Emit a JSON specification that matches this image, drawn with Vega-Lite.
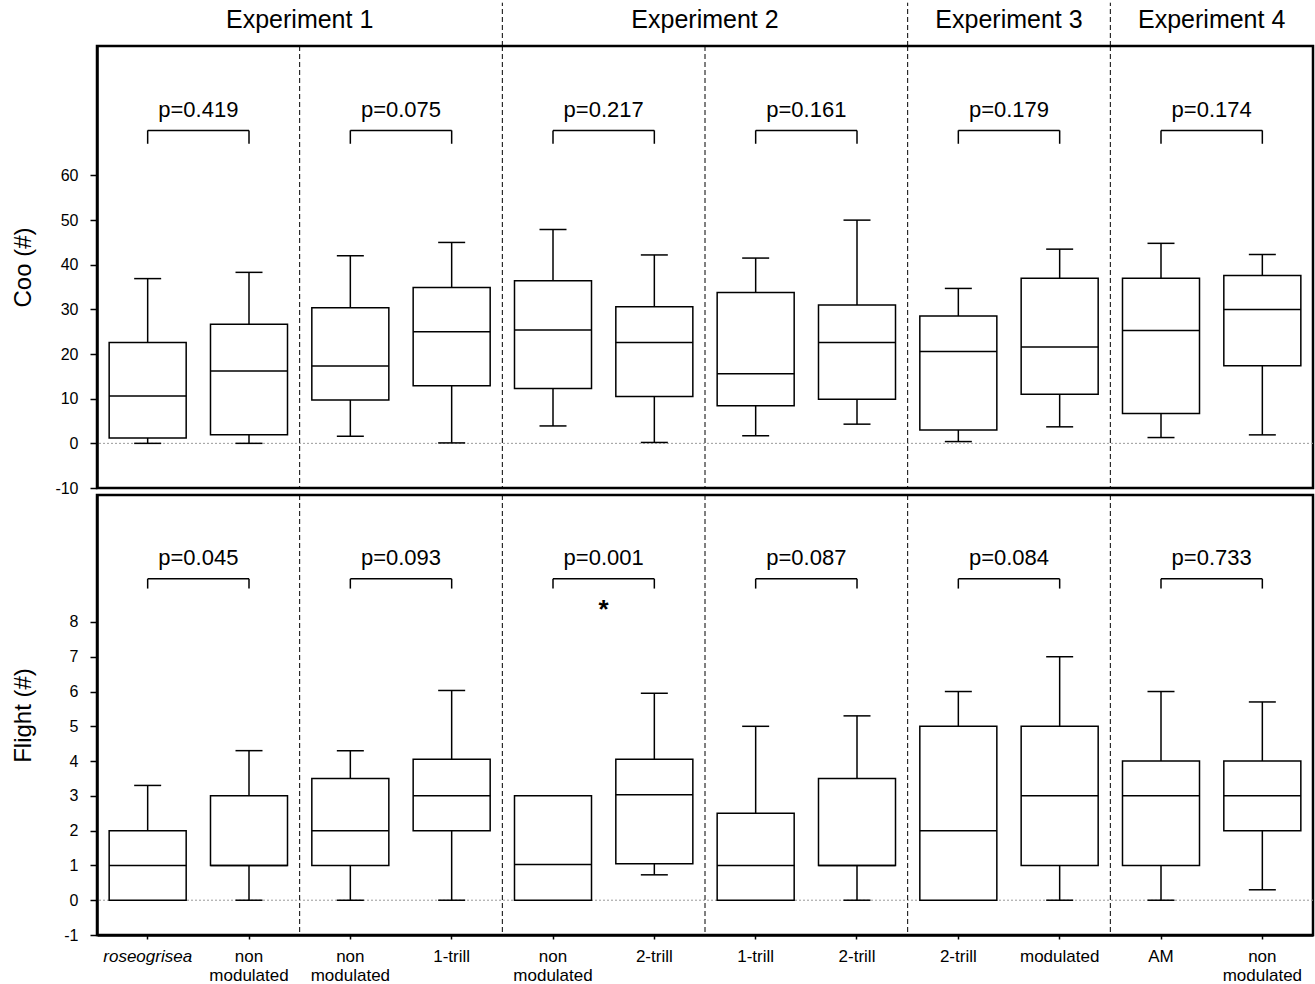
{
  "$schema": "https://vega.github.io/schema/vega-lite/v6.json",
  "padding": {"left": 10, "top": 0, "right": 0, "bottom": 0},
  "background": "white",
  "spacing": 7,
  "bounds": "flush",
  "config": {
    "font": "Liberation Sans",
    "view": {"stroke": "black", "strokeWidth": 2.5},
    "tick": {"opacity": 1},
    "axis": {"domainColor": "black", "tickColor": "black", "labelColor": "black", "titleColor": "black", "grid": false}
  },
  "datasets": {
    "coo": [
      {"cond": "01|roseogrisea", "min": 0, "q1": 1.2, "med": 10.6, "q3": 22.6, "max": 36.9},
      {"cond": "02|non|modulated", "min": 0, "q1": 1.9, "med": 16.2, "q3": 26.7, "max": 38.3},
      {"cond": "03|non|modulated", "min": 1.6, "q1": 9.7, "med": 17.3, "q3": 30.4, "max": 42.0},
      {"cond": "04|1-trill", "min": 0.1, "q1": 12.9, "med": 25.0, "q3": 34.9, "max": 45.0},
      {"cond": "05|non|modulated", "min": 3.9, "q1": 12.3, "med": 25.4, "q3": 36.4, "max": 47.9},
      {"cond": "06|2-trill", "min": 0.2, "q1": 10.5, "med": 22.6, "q3": 30.6, "max": 42.2},
      {"cond": "07|1-trill", "min": 1.7, "q1": 8.4, "med": 15.6, "q3": 33.8, "max": 41.5},
      {"cond": "08|2-trill", "min": 4.3, "q1": 9.9, "med": 22.6, "q3": 31.0, "max": 50.0},
      {"cond": "09|2-trill", "min": 0.4, "q1": 3.0, "med": 20.6, "q3": 28.5, "max": 34.7},
      {"cond": "10|modulated", "min": 3.7, "q1": 11.0, "med": 21.6, "q3": 37.0, "max": 43.5},
      {"cond": "11|AM", "min": 1.3, "q1": 6.7, "med": 25.3, "q3": 37.0, "max": 44.8},
      {"cond": "12|non|modulated", "min": 1.9, "q1": 17.4, "med": 30.0, "q3": 37.6, "max": 42.3}
    ],
    "flight": [
      {"cond": "01|roseogrisea", "min": 0, "q1": 0, "med": 1, "q3": 2, "max": 3.3},
      {"cond": "02|non|modulated", "min": 0, "q1": 1, "med": 1, "q3": 3, "max": 4.3},
      {"cond": "03|non|modulated", "min": 0, "q1": 1, "med": 2, "q3": 3.5, "max": 4.3},
      {"cond": "04|1-trill", "min": 0, "q1": 2, "med": 3, "q3": 4.05, "max": 6.03},
      {"cond": "05|non|modulated", "min": 0, "q1": 0, "med": 1.03, "q3": 3, "max": 3},
      {"cond": "06|2-trill", "min": 0.73, "q1": 1.05, "med": 3.03, "q3": 4.05, "max": 5.95},
      {"cond": "07|1-trill", "min": 0, "q1": 0, "med": 1, "q3": 2.5, "max": 5},
      {"cond": "08|2-trill", "min": 0, "q1": 1, "med": 1, "q3": 3.5, "max": 5.3},
      {"cond": "09|2-trill", "min": 0, "q1": 0, "med": 2, "q3": 5, "max": 6},
      {"cond": "10|modulated", "min": 0, "q1": 1, "med": 3, "q3": 5, "max": 7},
      {"cond": "11|AM", "min": 0, "q1": 1, "med": 3, "q3": 4, "max": 6},
      {"cond": "12|non|modulated", "min": 0.3, "q1": 2, "med": 3, "q3": 4, "max": 5.7}
    ],
    "pc": [
      {"a": "01|roseogrisea", "b": "02|non|modulated", "p": "p=0.419"},
      {"a": "03|non|modulated", "b": "04|1-trill", "p": "p=0.075"},
      {"a": "05|non|modulated", "b": "06|2-trill", "p": "p=0.217"},
      {"a": "07|1-trill", "b": "08|2-trill", "p": "p=0.161"},
      {"a": "09|2-trill", "b": "10|modulated", "p": "p=0.179"},
      {"a": "11|AM", "b": "12|non|modulated", "p": "p=0.174"}
    ],
    "pf": [
      {"a": "01|roseogrisea", "b": "02|non|modulated", "p": "p=0.045"},
      {"a": "03|non|modulated", "b": "04|1-trill", "p": "p=0.093"},
      {"a": "05|non|modulated", "b": "06|2-trill", "p": "p=0.001"},
      {"a": "07|1-trill", "b": "08|2-trill", "p": "p=0.087"},
      {"a": "09|2-trill", "b": "10|modulated", "p": "p=0.084"},
      {"a": "11|AM", "b": "12|non|modulated", "p": "p=0.733"}
    ],
    "sep": [
      {"cond": "03|non|modulated"},
      {"cond": "05|non|modulated"},
      {"cond": "07|1-trill"},
      {"cond": "09|2-trill"},
      {"cond": "11|AM"}
    ],
    "hsep": [
      {"cond": "05|non|modulated"},
      {"cond": "09|2-trill"},
      {"cond": "11|AM"}
    ],
    "hdr": [
      {"cond": "03|non|modulated", "text": "Experiment 1"},
      {"cond": "07|1-trill", "text": "Experiment 2"},
      {"cond": "10|modulated", "text": "Experiment 3"},
      {"cond": "12|non|modulated", "text": "Experiment 4"}
    ],
    "star": [
      {"cond": "06|2-trill", "text": "*"}
    ]
  },
  "vconcat": [
    {
      "width": 1216,
      "height": 442,
      "layer": [
        {
          "data": {"values": [{}]},
          "mark": {"type": "rule", "color": "#9a9a9a", "strokeWidth": 1, "strokeDash": [2, 2]},
          "encoding": {"y": {"datum": 0, "scale": {"domain": [-10, 89], "nice": false, "zero": false},
            "axis": {"values": [-10, 0, 10, 20, 30, 40, 50, 60], "labelExpr": "datum.value + ''", "tickSize": 7, "tickWidth": 1.5, "domainWidth": 2.5, "labelFontSize": 16, "labelPadding": 12, "title": "Coo (#)", "titleFontSize": 24, "titleFontWeight": "normal", "titlePadding": 19}}}
        },
        {
          "data": {"name": "sep"},
          "mark": {"type": "rule", "color": "black", "strokeWidth": 1, "strokeDash": [5, 3]},
          "encoding": {"x": {"field": "cond", "type": "nominal", "bandPosition": 0, "axis": null, "scale": {"domain": ["01|roseogrisea","02|non|modulated","03|non|modulated","04|1-trill","05|non|modulated","06|2-trill","07|1-trill","08|2-trill","09|2-trill","10|modulated","11|AM","12|non|modulated"], "paddingInner": 0, "paddingOuter": 0}}}
        },
        {
          "data": {"name": "hsep"},
          "mark": {"type": "rule", "color": "black", "strokeWidth": 1, "strokeDash": [5, 3]},
          "encoding": {
            "x": {"field": "cond", "type": "nominal", "bandPosition": 0, "axis": null},
            "y": {"datum": 89, "scale": {"domain": [-10, 89], "nice": false, "zero": false},
              "axis": {"values": [-10, 0, 10, 20, 30, 40, 50, 60], "labelExpr": "datum.value + ''", "tickSize": 7, "tickWidth": 1.5, "domainWidth": 2.5, "labelFontSize": 16, "labelPadding": 12, "title": "Coo (#)", "titleFontSize": 24, "titleFontWeight": "normal", "titlePadding": 19}},
            "y2": {"datum": 98.7}
          }
        },
        {
          "data": {"name": "hdr"},
          "mark": {"type": "text", "fontSize": 25, "baseline": "alphabetic", "align": "center", "color": "black"},
          "encoding": {
            "x": {"field": "cond", "type": "nominal", "bandPosition": 0, "axis": null},
            "y": {"datum": 93.0, "scale": {"domain": [-10, 89], "nice": false, "zero": false},
              "axis": {"values": [-10, 0, 10, 20, 30, 40, 50, 60], "labelExpr": "datum.value + ''", "tickSize": 7, "tickWidth": 1.5, "domainWidth": 2.5, "labelFontSize": 16, "labelPadding": 12, "title": "Coo (#)", "titleFontSize": 24, "titleFontWeight": "normal", "titlePadding": 19}},
            "text": {"field": "text"}
          }
        },
        {
          "data": {"name": "coo"},
          "mark": {"type": "rule", "color": "black", "strokeWidth": 1.5},
          "encoding": {
            "x": {"field": "cond", "type": "nominal", "axis": null},
            "y": {"field": "min", "type": "quantitative", "scale": {"domain": [-10, 89], "nice": false, "zero": false},
              "axis": {"values": [-10, 0, 10, 20, 30, 40, 50, 60], "labelExpr": "datum.value + ''", "tickSize": 7, "tickWidth": 1.5, "domainWidth": 2.5, "labelFontSize": 16, "labelPadding": 12, "title": "Coo (#)", "titleFontSize": 24, "titleFontWeight": "normal", "titlePadding": 19}},
            "y2": {"field": "q1"}
          }
        },
        {
          "data": {"name": "coo"},
          "mark": {"type": "rule", "color": "black", "strokeWidth": 1.5},
          "encoding": {
            "x": {"field": "cond", "type": "nominal", "axis": null},
            "y": {"field": "q3", "type": "quantitative", "scale": {"domain": [-10, 89], "nice": false, "zero": false},
              "axis": {"values": [-10, 0, 10, 20, 30, 40, 50, 60], "labelExpr": "datum.value + ''", "tickSize": 7, "tickWidth": 1.5, "domainWidth": 2.5, "labelFontSize": 16, "labelPadding": 12, "title": "Coo (#)", "titleFontSize": 24, "titleFontWeight": "normal", "titlePadding": 19}},
            "y2": {"field": "max"}
          }
        },
        {
          "data": {"name": "coo"},
          "mark": {"type": "tick", "color": "black", "size": 27, "thickness": 1.5, "opacity": 1},
          "encoding": {
            "x": {"field": "cond", "type": "nominal", "axis": null},
            "y": {"field": "min", "type": "quantitative", "scale": {"domain": [-10, 89], "nice": false, "zero": false},
              "axis": {"values": [-10, 0, 10, 20, 30, 40, 50, 60], "labelExpr": "datum.value + ''", "tickSize": 7, "tickWidth": 1.5, "domainWidth": 2.5, "labelFontSize": 16, "labelPadding": 12, "title": "Coo (#)", "titleFontSize": 24, "titleFontWeight": "normal", "titlePadding": 19}}
          }
        },
        {
          "data": {"name": "coo"},
          "mark": {"type": "tick", "color": "black", "size": 27, "thickness": 1.5, "opacity": 1},
          "encoding": {
            "x": {"field": "cond", "type": "nominal", "axis": null},
            "y": {"field": "max", "type": "quantitative", "scale": {"domain": [-10, 89], "nice": false, "zero": false},
              "axis": {"values": [-10, 0, 10, 20, 30, 40, 50, 60], "labelExpr": "datum.value + ''", "tickSize": 7, "tickWidth": 1.5, "domainWidth": 2.5, "labelFontSize": 16, "labelPadding": 12, "title": "Coo (#)", "titleFontSize": 24, "titleFontWeight": "normal", "titlePadding": 19}}
          }
        },
        {
          "data": {"name": "coo"},
          "mark": {"type": "bar", "fill": "white", "stroke": "black", "strokeWidth": 1.5, "width": {"band": 0.76}},
          "encoding": {
            "x": {"field": "cond", "type": "nominal", "axis": null},
            "y": {"field": "q1", "type": "quantitative", "scale": {"domain": [-10, 89], "nice": false, "zero": false},
              "axis": {"values": [-10, 0, 10, 20, 30, 40, 50, 60], "labelExpr": "datum.value + ''", "tickSize": 7, "tickWidth": 1.5, "domainWidth": 2.5, "labelFontSize": 16, "labelPadding": 12, "title": "Coo (#)", "titleFontSize": 24, "titleFontWeight": "normal", "titlePadding": 19}},
            "y2": {"field": "q3"}
          }
        },
        {
          "data": {"name": "coo"},
          "mark": {"type": "tick", "color": "black", "size": 77, "thickness": 1.5, "opacity": 1},
          "encoding": {
            "x": {"field": "cond", "type": "nominal", "axis": null},
            "y": {"field": "med", "type": "quantitative", "scale": {"domain": [-10, 89], "nice": false, "zero": false},
              "axis": {"values": [-10, 0, 10, 20, 30, 40, 50, 60], "labelExpr": "datum.value + ''", "tickSize": 7, "tickWidth": 1.5, "domainWidth": 2.5, "labelFontSize": 16, "labelPadding": 12, "title": "Coo (#)", "titleFontSize": 24, "titleFontWeight": "normal", "titlePadding": 19}}
          }
        },
        {
          "data": {"name": "pc"},
          "mark": {"type": "rule", "color": "black", "strokeWidth": 1.5},
          "encoding": {
            "x": {"field": "a", "type": "nominal", "axis": null},
            "x2": {"field": "b"},
            "y": {"datum": 70.1, "scale": {"domain": [-10, 89], "nice": false, "zero": false},
              "axis": {"values": [-10, 0, 10, 20, 30, 40, 50, 60], "labelExpr": "datum.value + ''", "tickSize": 7, "tickWidth": 1.5, "domainWidth": 2.5, "labelFontSize": 16, "labelPadding": 12, "title": "Coo (#)", "titleFontSize": 24, "titleFontWeight": "normal", "titlePadding": 19}}
          }
        },
        {
          "data": {"name": "pc"},
          "mark": {"type": "rule", "color": "black", "strokeWidth": 1.5},
          "encoding": {
            "x": {"field": "a", "type": "nominal", "axis": null},
            "y": {"datum": 67.1, "scale": {"domain": [-10, 89], "nice": false, "zero": false},
              "axis": {"values": [-10, 0, 10, 20, 30, 40, 50, 60], "labelExpr": "datum.value + ''", "tickSize": 7, "tickWidth": 1.5, "domainWidth": 2.5, "labelFontSize": 16, "labelPadding": 12, "title": "Coo (#)", "titleFontSize": 24, "titleFontWeight": "normal", "titlePadding": 19}},
            "y2": {"datum": 70.1}
          }
        },
        {
          "data": {"name": "pc"},
          "mark": {"type": "rule", "color": "black", "strokeWidth": 1.5},
          "encoding": {
            "x": {"field": "b", "type": "nominal", "axis": null},
            "y": {"datum": 67.1, "scale": {"domain": [-10, 89], "nice": false, "zero": false},
              "axis": {"values": [-10, 0, 10, 20, 30, 40, 50, 60], "labelExpr": "datum.value + ''", "tickSize": 7, "tickWidth": 1.5, "domainWidth": 2.5, "labelFontSize": 16, "labelPadding": 12, "title": "Coo (#)", "titleFontSize": 24, "titleFontWeight": "normal", "titlePadding": 19}},
            "y2": {"datum": 70.1}
          }
        },
        {
          "data": {"name": "pc"},
          "mark": {"type": "text", "fontSize": 22, "baseline": "alphabetic", "align": "center", "color": "black"},
          "encoding": {
            "x": {"field": "b", "type": "nominal", "bandPosition": 0, "axis": null},
            "y": {"datum": 73.1, "scale": {"domain": [-10, 89], "nice": false, "zero": false},
              "axis": {"values": [-10, 0, 10, 20, 30, 40, 50, 60], "labelExpr": "datum.value + ''", "tickSize": 7, "tickWidth": 1.5, "domainWidth": 2.5, "labelFontSize": 16, "labelPadding": 12, "title": "Coo (#)", "titleFontSize": 24, "titleFontWeight": "normal", "titlePadding": 19}},
            "text": {"field": "p"}
          }
        }
      ]
    },
    {
      "width": 1216,
      "height": 440,
      "layer": [
        {
          "data": {"values": [{}]},
          "mark": {"type": "rule", "color": "#9a9a9a", "strokeWidth": 1, "strokeDash": [2, 2]},
          "encoding": {"y": {"datum": 0, "scale": {"domain": [-1, 11.65], "nice": false, "zero": false},
            "axis": {"values": [-1, 0, 1, 2, 3, 4, 5, 6, 7, 8], "labelExpr": "datum.value + ''", "tickSize": 7, "tickWidth": 1.5, "domainWidth": 2.5, "labelFontSize": 16, "labelPadding": 12, "title": "Flight (#)", "titleFontSize": 24, "titleFontWeight": "normal", "titlePadding": 28}}}
        },
        {
          "data": {"name": "sep"},
          "mark": {"type": "rule", "color": "black", "strokeWidth": 1, "strokeDash": [5, 3]},
          "encoding": {"x": {"field": "cond", "type": "nominal", "bandPosition": 0,
            "scale": {"domain": ["01|roseogrisea","02|non|modulated","03|non|modulated","04|1-trill","05|non|modulated","06|2-trill","07|1-trill","08|2-trill","09|2-trill","10|modulated","11|AM","12|non|modulated"], "paddingInner": 0, "paddingOuter": 0},
            "axis": {"title": null, "labelExpr": "slice(split(datum.value, '|'), 1)", "labelAngle": 0, "labelFontSize": 17, "labelLineHeight": 19, "labelPadding": 9, "tickSize": 4, "tickWidth": 1.5, "domainWidth": 2.5, "labelFontStyle": {"condition": {"test": "indexof(datum.value, 'roseo') >= 0", "value": "italic"}, "value": "normal"}}}}
        },
        {
          "data": {"name": "flight"},
          "mark": {"type": "rule", "color": "black", "strokeWidth": 1.5},
          "encoding": {
            "x": {"field": "cond", "type": "nominal",
              "axis": {"title": null, "labelExpr": "slice(split(datum.value, '|'), 1)", "labelAngle": 0, "labelFontSize": 17, "labelLineHeight": 19, "labelPadding": 9, "tickSize": 4, "tickWidth": 1.5, "domainWidth": 2.5, "labelFontStyle": {"condition": {"test": "indexof(datum.value, 'roseo') >= 0", "value": "italic"}, "value": "normal"}}},
            "y": {"field": "min", "type": "quantitative", "scale": {"domain": [-1, 11.65], "nice": false, "zero": false},
              "axis": {"values": [-1, 0, 1, 2, 3, 4, 5, 6, 7, 8], "labelExpr": "datum.value + ''", "tickSize": 7, "tickWidth": 1.5, "domainWidth": 2.5, "labelFontSize": 16, "labelPadding": 12, "title": "Flight (#)", "titleFontSize": 24, "titleFontWeight": "normal", "titlePadding": 28}},
            "y2": {"field": "q1"}
          }
        },
        {
          "data": {"name": "flight"},
          "mark": {"type": "rule", "color": "black", "strokeWidth": 1.5},
          "encoding": {
            "x": {"field": "cond", "type": "nominal",
              "axis": {"title": null, "labelExpr": "slice(split(datum.value, '|'), 1)", "labelAngle": 0, "labelFontSize": 17, "labelLineHeight": 19, "labelPadding": 9, "tickSize": 4, "tickWidth": 1.5, "domainWidth": 2.5, "labelFontStyle": {"condition": {"test": "indexof(datum.value, 'roseo') >= 0", "value": "italic"}, "value": "normal"}}},
            "y": {"field": "q3", "type": "quantitative", "scale": {"domain": [-1, 11.65], "nice": false, "zero": false},
              "axis": {"values": [-1, 0, 1, 2, 3, 4, 5, 6, 7, 8], "labelExpr": "datum.value + ''", "tickSize": 7, "tickWidth": 1.5, "domainWidth": 2.5, "labelFontSize": 16, "labelPadding": 12, "title": "Flight (#)", "titleFontSize": 24, "titleFontWeight": "normal", "titlePadding": 28}},
            "y2": {"field": "max"}
          }
        },
        {
          "data": {"name": "flight"},
          "mark": {"type": "tick", "color": "black", "size": 27, "thickness": 1.5, "opacity": 1},
          "encoding": {
            "x": {"field": "cond", "type": "nominal",
              "axis": {"title": null, "labelExpr": "slice(split(datum.value, '|'), 1)", "labelAngle": 0, "labelFontSize": 17, "labelLineHeight": 19, "labelPadding": 9, "tickSize": 4, "tickWidth": 1.5, "domainWidth": 2.5, "labelFontStyle": {"condition": {"test": "indexof(datum.value, 'roseo') >= 0", "value": "italic"}, "value": "normal"}}},
            "y": {"field": "min", "type": "quantitative", "scale": {"domain": [-1, 11.65], "nice": false, "zero": false},
              "axis": {"values": [-1, 0, 1, 2, 3, 4, 5, 6, 7, 8], "labelExpr": "datum.value + ''", "tickSize": 7, "tickWidth": 1.5, "domainWidth": 2.5, "labelFontSize": 16, "labelPadding": 12, "title": "Flight (#)", "titleFontSize": 24, "titleFontWeight": "normal", "titlePadding": 28}}
          }
        },
        {
          "data": {"name": "flight"},
          "mark": {"type": "tick", "color": "black", "size": 27, "thickness": 1.5, "opacity": 1},
          "encoding": {
            "x": {"field": "cond", "type": "nominal",
              "axis": {"title": null, "labelExpr": "slice(split(datum.value, '|'), 1)", "labelAngle": 0, "labelFontSize": 17, "labelLineHeight": 19, "labelPadding": 9, "tickSize": 4, "tickWidth": 1.5, "domainWidth": 2.5, "labelFontStyle": {"condition": {"test": "indexof(datum.value, 'roseo') >= 0", "value": "italic"}, "value": "normal"}}},
            "y": {"field": "max", "type": "quantitative", "scale": {"domain": [-1, 11.65], "nice": false, "zero": false},
              "axis": {"values": [-1, 0, 1, 2, 3, 4, 5, 6, 7, 8], "labelExpr": "datum.value + ''", "tickSize": 7, "tickWidth": 1.5, "domainWidth": 2.5, "labelFontSize": 16, "labelPadding": 12, "title": "Flight (#)", "titleFontSize": 24, "titleFontWeight": "normal", "titlePadding": 28}}
          }
        },
        {
          "data": {"name": "flight"},
          "mark": {"type": "bar", "fill": "white", "stroke": "black", "strokeWidth": 1.5, "width": {"band": 0.76}},
          "encoding": {
            "x": {"field": "cond", "type": "nominal",
              "axis": {"title": null, "labelExpr": "slice(split(datum.value, '|'), 1)", "labelAngle": 0, "labelFontSize": 17, "labelLineHeight": 19, "labelPadding": 9, "tickSize": 4, "tickWidth": 1.5, "domainWidth": 2.5, "labelFontStyle": {"condition": {"test": "indexof(datum.value, 'roseo') >= 0", "value": "italic"}, "value": "normal"}}},
            "y": {"field": "q1", "type": "quantitative", "scale": {"domain": [-1, 11.65], "nice": false, "zero": false},
              "axis": {"values": [-1, 0, 1, 2, 3, 4, 5, 6, 7, 8], "labelExpr": "datum.value + ''", "tickSize": 7, "tickWidth": 1.5, "domainWidth": 2.5, "labelFontSize": 16, "labelPadding": 12, "title": "Flight (#)", "titleFontSize": 24, "titleFontWeight": "normal", "titlePadding": 28}},
            "y2": {"field": "q3"}
          }
        },
        {
          "data": {"name": "flight"},
          "mark": {"type": "tick", "color": "black", "size": 77, "thickness": 1.5, "opacity": 1},
          "encoding": {
            "x": {"field": "cond", "type": "nominal",
              "axis": {"title": null, "labelExpr": "slice(split(datum.value, '|'), 1)", "labelAngle": 0, "labelFontSize": 17, "labelLineHeight": 19, "labelPadding": 9, "tickSize": 4, "tickWidth": 1.5, "domainWidth": 2.5, "labelFontStyle": {"condition": {"test": "indexof(datum.value, 'roseo') >= 0", "value": "italic"}, "value": "normal"}}},
            "y": {"field": "med", "type": "quantitative", "scale": {"domain": [-1, 11.65], "nice": false, "zero": false},
              "axis": {"values": [-1, 0, 1, 2, 3, 4, 5, 6, 7, 8], "labelExpr": "datum.value + ''", "tickSize": 7, "tickWidth": 1.5, "domainWidth": 2.5, "labelFontSize": 16, "labelPadding": 12, "title": "Flight (#)", "titleFontSize": 24, "titleFontWeight": "normal", "titlePadding": 28}}
          }
        },
        {
          "data": {"name": "pf"},
          "mark": {"type": "rule", "color": "black", "strokeWidth": 1.5},
          "encoding": {
            "x": {"field": "a", "type": "nominal",
              "axis": {"title": null, "labelExpr": "slice(split(datum.value, '|'), 1)", "labelAngle": 0, "labelFontSize": 17, "labelLineHeight": 19, "labelPadding": 9, "tickSize": 4, "tickWidth": 1.5, "domainWidth": 2.5, "labelFontStyle": {"condition": {"test": "indexof(datum.value, 'roseo') >= 0", "value": "italic"}, "value": "normal"}}},
            "x2": {"field": "b"},
            "y": {"datum": 9.24, "scale": {"domain": [-1, 11.65], "nice": false, "zero": false},
              "axis": {"values": [-1, 0, 1, 2, 3, 4, 5, 6, 7, 8], "labelExpr": "datum.value + ''", "tickSize": 7, "tickWidth": 1.5, "domainWidth": 2.5, "labelFontSize": 16, "labelPadding": 12, "title": "Flight (#)", "titleFontSize": 24, "titleFontWeight": "normal", "titlePadding": 28}}
          }
        },
        {
          "data": {"name": "pf"},
          "mark": {"type": "rule", "color": "black", "strokeWidth": 1.5},
          "encoding": {
            "x": {"field": "a", "type": "nominal",
              "axis": {"title": null, "labelExpr": "slice(split(datum.value, '|'), 1)", "labelAngle": 0, "labelFontSize": 17, "labelLineHeight": 19, "labelPadding": 9, "tickSize": 4, "tickWidth": 1.5, "domainWidth": 2.5, "labelFontStyle": {"condition": {"test": "indexof(datum.value, 'roseo') >= 0", "value": "italic"}, "value": "normal"}}},
            "y": {"datum": 8.96, "scale": {"domain": [-1, 11.65], "nice": false, "zero": false},
              "axis": {"values": [-1, 0, 1, 2, 3, 4, 5, 6, 7, 8], "labelExpr": "datum.value + ''", "tickSize": 7, "tickWidth": 1.5, "domainWidth": 2.5, "labelFontSize": 16, "labelPadding": 12, "title": "Flight (#)", "titleFontSize": 24, "titleFontWeight": "normal", "titlePadding": 28}},
            "y2": {"datum": 9.24}
          }
        },
        {
          "data": {"name": "pf"},
          "mark": {"type": "rule", "color": "black", "strokeWidth": 1.5},
          "encoding": {
            "x": {"field": "b", "type": "nominal",
              "axis": {"title": null, "labelExpr": "slice(split(datum.value, '|'), 1)", "labelAngle": 0, "labelFontSize": 17, "labelLineHeight": 19, "labelPadding": 9, "tickSize": 4, "tickWidth": 1.5, "domainWidth": 2.5, "labelFontStyle": {"condition": {"test": "indexof(datum.value, 'roseo') >= 0", "value": "italic"}, "value": "normal"}}},
            "y": {"datum": 8.96, "scale": {"domain": [-1, 11.65], "nice": false, "zero": false},
              "axis": {"values": [-1, 0, 1, 2, 3, 4, 5, 6, 7, 8], "labelExpr": "datum.value + ''", "tickSize": 7, "tickWidth": 1.5, "domainWidth": 2.5, "labelFontSize": 16, "labelPadding": 12, "title": "Flight (#)", "titleFontSize": 24, "titleFontWeight": "normal", "titlePadding": 28}},
            "y2": {"datum": 9.24}
          }
        },
        {
          "data": {"name": "pf"},
          "mark": {"type": "text", "fontSize": 22, "baseline": "alphabetic", "align": "center", "color": "black"},
          "encoding": {
            "x": {"field": "b", "type": "nominal", "bandPosition": 0,
              "axis": {"title": null, "labelExpr": "slice(split(datum.value, '|'), 1)", "labelAngle": 0, "labelFontSize": 17, "labelLineHeight": 19, "labelPadding": 9, "tickSize": 4, "tickWidth": 1.5, "domainWidth": 2.5, "labelFontStyle": {"condition": {"test": "indexof(datum.value, 'roseo') >= 0", "value": "italic"}, "value": "normal"}}},
            "y": {"datum": 9.63, "scale": {"domain": [-1, 11.65], "nice": false, "zero": false},
              "axis": {"values": [-1, 0, 1, 2, 3, 4, 5, 6, 7, 8], "labelExpr": "datum.value + ''", "tickSize": 7, "tickWidth": 1.5, "domainWidth": 2.5, "labelFontSize": 16, "labelPadding": 12, "title": "Flight (#)", "titleFontSize": 24, "titleFontWeight": "normal", "titlePadding": 28}},
            "text": {"field": "p"}
          }
        },
        {
          "data": {"name": "star"},
          "mark": {"type": "text", "fontSize": 26, "fontWeight": "bold", "baseline": "alphabetic", "align": "center", "color": "black"},
          "encoding": {
            "x": {"field": "cond", "type": "nominal", "bandPosition": 0,
              "axis": {"title": null, "labelExpr": "slice(split(datum.value, '|'), 1)", "labelAngle": 0, "labelFontSize": 17, "labelLineHeight": 19, "labelPadding": 9, "tickSize": 4, "tickWidth": 1.5, "domainWidth": 2.5, "labelFontStyle": {"condition": {"test": "indexof(datum.value, 'roseo') >= 0", "value": "italic"}, "value": "normal"}}},
            "y": {"datum": 8.12, "scale": {"domain": [-1, 11.65], "nice": false, "zero": false},
              "axis": {"values": [-1, 0, 1, 2, 3, 4, 5, 6, 7, 8], "labelExpr": "datum.value + ''", "tickSize": 7, "tickWidth": 1.5, "domainWidth": 2.5, "labelFontSize": 16, "labelPadding": 12, "title": "Flight (#)", "titleFontSize": 24, "titleFontWeight": "normal", "titlePadding": 28}},
            "text": {"field": "text"}
          }
        }
      ]
    }
  ]
}
